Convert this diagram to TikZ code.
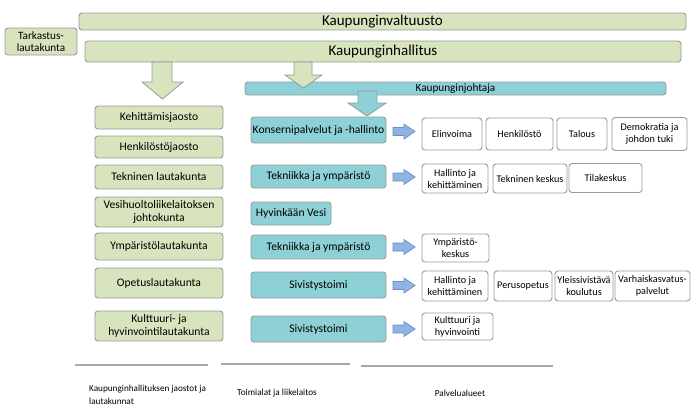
\documentclass[tikz,border=0pt]{standalone}
\usepackage{fontspec}
\setmainfont{Carlito}
\definecolor{gfill}{HTML}{D7E4BD}
\definecolor{tfill}{HTML}{8DD0D6}
\definecolor{bord}{HTML}{9A9A9A}
\definecolor{bfill}{HTML}{8DB4E2}
\definecolor{bbord}{HTML}{6A8FC4}
\definecolor{lgray}{HTML}{A8A8A8}
\tikzset{
  base/.style={draw=bord, line width=0.9pt, rounded corners=3pt, inner sep=0pt, align=center, text=black},
  gbox/.style={base, fill=gfill, font=\fontsize{11.6}{13}\selectfont},
  tbox/.style={base, fill=tfill, font=\fontsize{11.6}{13}\selectfont},
  wbox/.style={base, fill=white, font=\fontsize{10.2}{12}\selectfont},
  barrow/.style={draw=bord, line width=0.8pt, fill=gfill},
  tarrow/.style={draw=bord, line width=0.8pt, fill=tfill},
  blarrow/.style={draw=bbord, line width=0.7pt, fill=bfill},
  sepline/.style={draw=lgray, line width=1.4pt},
  captext/.style={font=\fontsize{9.2}{13}\selectfont, inner sep=0pt}
}
\begin{document}
\begin{tikzpicture}[x=1pt,y=-1pt]
\useasboundingbox (0,0) rectangle (700,415);
% top bars
\node[gbox, minimum width=607pt, minimum height=17pt, font=\fontsize{15}{16}\selectfont] (valt) at (382.5,21.5) {Kaupunginvaltuusto};
\node[gbox, minimum width=596pt, minimum height=21pt, font=\fontsize{15}{16}\selectfont] (hall) at (383,51.5) {Kaupunginhallitus};
\node[gbox, minimum width=72pt, minimum height=27pt, font=\fontsize{11.2}{12.5}\selectfont] (tark) at (41,41.5) {Tarkastus-\\lautakunta};
\node[tbox, minimum width=421pt, minimum height=13pt, font=\fontsize{11.2}{12}\selectfont] (johtaja) at (455.5,88.5) {Kaupunginjohtaja};
% big arrows
\draw[barrow] (152,62) -- (172,62) -- (172,82) -- (183,82) -- (162.5,99) -- (142,82) -- (152,82) -- cycle;
\draw[barrow] (294,62) -- (312,62) -- (312,75) -- (322,75) -- (303.5,88) -- (285,75) -- (294,75) -- cycle;
\draw[tarrow] (358,91) -- (377,91) -- (377,103) -- (386,103) -- (367,116) -- (348,103) -- (358,103) -- cycle;
% left column
\node[gbox, minimum width=128pt, minimum height=23pt] (keh) at (159,117.5) {Kehittämisjaosto};
\node[gbox, minimum width=128pt, minimum height=22pt] (henk) at (159,147) {Henkilöstöjaosto};
\node[gbox, minimum width=128pt, minimum height=24pt] (tekl) at (159,177) {Tekninen lautakunta};
\node[gbox, minimum width=128pt, minimum height=30pt] (vesij) at (159,212) {Vesihuoltoliikelaitoksen\\johtokunta};
\node[gbox, minimum width=128pt, minimum height=27pt] (ympl) at (159,246.5) {Ympäristölautakunta};
\node[gbox, minimum width=128pt, minimum height=30pt] (opl) at (159,283) {Opetuslautakunta};
\node[gbox, minimum width=128pt, minimum height=30pt] (kultl) at (159,326) {Kulttuuri- ja\\hyvinvointilautakunta};
% middle column
\node[tbox, minimum width=135pt, minimum height=26pt] (kons) at (318.5,130) {Konsernipalvelut ja -hallinto};
\node[tbox, minimum width=135pt, minimum height=23pt] (tek1) at (318.5,176.5) {Tekniikka ja ympäristö};
\node[tbox, minimum width=80pt, minimum height=23pt] (hvesi) at (291,213.5) {Hyvinkään Vesi};
\node[tbox, minimum width=135pt, minimum height=24pt] (tek2) at (318.5,247) {Tekniikka ja ympäristö};
\node[tbox, minimum width=135pt, minimum height=26pt] (siv1) at (318.5,285) {Sivistystoimi};
\node[tbox, minimum width=135pt, minimum height=26pt] (siv2) at (318.5,329) {Sivistystoimi};
% blue arrows
\foreach \yy in {131.5,177,247,285.5,329}{
  \draw[blarrow] (393,\yy-4) -- (404,\yy-4) -- (404,\yy-7.5) -- (415,\yy) -- (404,\yy+7.5) -- (404,\yy+4) -- (393,\yy+4) -- cycle;
}
% right boxes
\node[wbox, minimum width=60pt, minimum height=32pt] (elin) at (452,134) {Elinvoima};
\node[wbox, minimum width=67pt, minimum height=32pt] (henko) at (519.5,134) {Henkilöstö};
\node[wbox, minimum width=50pt, minimum height=32pt] (tal) at (582,134) {Talous};
\node[wbox, minimum width=75pt, minimum height=33pt] (demo) at (649.5,134) {Demokratia ja\\johdon tuki};
\node[wbox, minimum width=66pt, minimum height=29pt] (hk1) at (455,178.5) {Hallinto ja\\kehittäminen};
\node[wbox, minimum width=74pt, minimum height=29pt] (tkes) at (530,178.5) {Tekninen keskus};
\node[wbox, minimum width=73pt, minimum height=29pt] (tila) at (605.5,178) {Tilakeskus};
\node[wbox, minimum width=67pt, minimum height=28pt] (ympk) at (455.5,248) {Ympäristö-\\keskus};
\node[wbox, minimum width=66pt, minimum height=30pt] (hk2) at (455,286) {Hallinto ja\\kehittäminen};
\node[wbox, minimum width=58pt, minimum height=30pt] (perus) at (523,286) {Perusopetus};
\node[wbox, minimum width=58pt, minimum height=30pt] (yleis) at (584,286) {Yleissivistävä\\koulutus};
\node[wbox, minimum width=75pt, minimum height=30pt] (varh) at (652.5,286) {Varhaiskasvatus-\\palvelut};
\node[wbox, minimum width=71pt, minimum height=27pt] (kulth) at (457.5,326.5) {Kulttuuri ja\\hyvinvointi};
% bottom lines
\coordinate (l1a) at (75,365); \coordinate (l1b) at (208,365);
\coordinate (l2a) at (221,364); \coordinate (l2b) at (350,364);
\coordinate (l3a) at (361,366); \coordinate (l3b) at (553,366);
\draw[sepline] (l1a) -- (l1b);
\draw[sepline] (l2a) -- (l2b);
\draw[sepline] (l3a) -- (l3b);
% captions
\node[captext, anchor=west, align=left] (c1) at (89,395) {Kaupunginhallituksen jaostot ja\\lautakunnat};
\node[captext] (c2) at (277,393) {Toimialat ja liikelaitos};
\node[captext] (c3) at (460,393) {Palvelualueet};
\end{tikzpicture}
\end{document}
